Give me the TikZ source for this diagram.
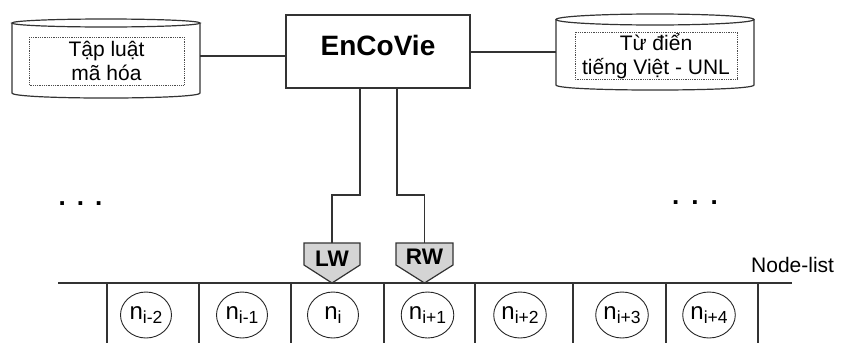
\documentclass[tikz,border=0pt]{standalone}
\usepackage{fontspec}
\setmainfont{Liberation Sans}
\usetikzlibrary{positioning,shapes.geometric}

\tikzset{
  ln/.style={line width=1.2pt, color=black!80},
  dbtxt/.style={font=\fontsize{21}{24}\selectfont, align=center, inner sep=0pt},
  ncirc/.style={draw, ellipse, line width=0.9pt, color=black!85, minimum width=51pt, minimum height=46pt, inner sep=0pt, text=black},
  wtxt/.style={font=\fontsize{22.5}{22.5}\selectfont\bfseries, inner sep=0pt},
  dots/.style={font=\fontsize{26}{26}\selectfont\bfseries, inner sep=0pt, anchor=base}
}
\newcommand{\nsub}[1]{{\fontsize{24}{24}\selectfont n}\raisebox{-4pt}{\fontsize{17.5}{17.5}\selectfont #1}}

\begin{document}
\begin{tikzpicture}[x=1pt,y=-1pt]
\useasboundingbox (0,0) rectangle (850,343);

% left data store
\draw[ln] (106,23) ellipse [x radius=94pt, y radius=4pt];
\draw[ln] (12,23) -- (12,93) .. controls (12,99.7) and (200,99.7) .. (200,93) -- (200,23);
\draw[densely dotted, line width=0.8pt, color=black!70] (29,37) rectangle (184,85);
\node[dbtxt] (tapluat) at (106.5,61) {Tập luật\\mã hóa};
\coordinate (lcylr) at (200,56);

% right data store
\draw[ln] (655,19.5) ellipse [x radius=99pt, y radius=5.5pt];
\draw[ln] (556,19.5) -- (556,85) .. controls (556,91.7) and (754,91.7) .. (754,85) -- (754,19.5);
\draw[densely dotted, line width=0.8pt, color=black!70] (575,32) rectangle (737,79);
\node[dbtxt] (tudien) at (656,56) {Từ điển\\tiếng Việt - UNL};
\coordinate (rcyll) at (556,52);

% main box
\node[draw, ln, minimum width=184pt, minimum height=73pt, inner sep=0pt] (encovie) at (378,51.5) {};
\node[font=\fontsize{28}{28}\selectfont\bfseries, inner sep=0pt] (encovietxt) at (378,45) {EnCoVie};

\draw[ln] (lcylr) -- (lcylr -| encovie.west);
\draw[ln] (encovie.east |- rcyll) -- (rcyll);

% windows
\draw[ln, fill=black!17] (304,243) -- (360,243) -- (360,265) -- (332,283) -- (304,265) -- cycle;
\node[wtxt] (lw) at (332,259) {LW};
\draw[ln, fill=black!17] (396,243) -- (453,243) -- (453,265) -- (424.5,283) -- (396,265) -- cycle;
\node[wtxt] (rw) at (424.5,257) {RW};

\coordinate (lwtop) at (332,243);
\coordinate (rwtop) at (424.5,243);
\coordinate (ldown) at (360,195);
\coordinate (rdown) at (397,195);
\draw[ln] (ldown |- encovie.south) -- (ldown) -| (lwtop);
\draw[ln] (rdown |- encovie.south) -- (rdown) -| (rwtop);

% node list
\draw[ln] (58,283) -- (792,283);
\foreach \xx in {107,199,291,384,475,573,666,758}
  \draw[ln] (\xx,283) -- (\xx,343);

\foreach \pos/\lbl/\nm in {146/i-2/nma, 242/i-1/nmb, 333/i/nc, 427.5/i+1/npa, 520/i+2/npb, 622/i+3/npc, 709/i+4/npd}
  \node[ncirc] (\nm) at (\pos,315) {\nsub{\lbl}};

\node[font=\fontsize{21}{21}\selectfont, anchor=base west, inner sep=0pt] (nodelist) at (751,272) {Node-list};

\node[dots] (ldots) at (80.5,205) {.\hspace{11pt}.\hspace{11pt}.};
\node[dots] (rdots) at (695,204) {.\hspace{12pt}.\hspace{12pt}.};
\end{tikzpicture}
\end{document}
